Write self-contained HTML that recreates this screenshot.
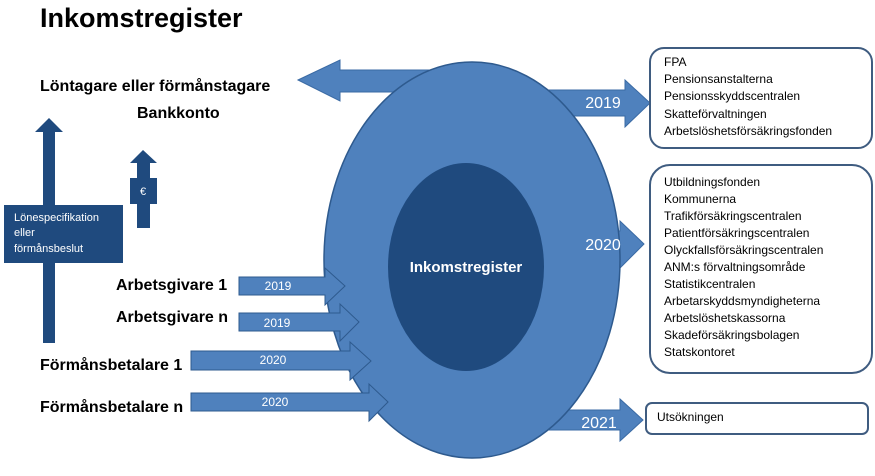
<!DOCTYPE html>
<html><head><meta charset="utf-8"><style>
html,body{margin:0;padding:0;background:#fff;}
svg{display:block;font-family:"Liberation Sans",sans-serif;}
</style></head><body>
<svg width="875" height="476" viewBox="0 0 875 476" xmlns="http://www.w3.org/2000/svg">
<text x="40" y="27" font-size="27" font-weight="bold" fill="#000">Inkomstregister</text>
<!-- left big arrow -->
<polygon points="298,80 340,60 340,70 470,70 470,92 340,92 340,101" fill="#4f81bd" stroke="#3a6aa4" stroke-width="1"/>
<!-- right arrows -->
<polygon points="540,90 625,90 625,80 650,103 625,127 625,116 540,116" fill="#4f81bd" stroke="#3a6aa4"/>
<polygon points="540,231 620,231 620,221 644,244 620,268 620,257 540,257" fill="#4f81bd" stroke="#3a6aa4"/>
<polygon points="540,410 620,410 620,399 643,420 620,441 620,430 540,430" fill="#4f81bd" stroke="#3a6aa4"/>
<!-- ellipse -->
<ellipse cx="472" cy="260" rx="148" ry="198" fill="#4f81bd" stroke="#2e5a8e" stroke-width="1.5"/>
<ellipse cx="466" cy="267" rx="78" ry="104" fill="#1f4a7e"/>
<text x="466" y="272" font-size="15" font-weight="bold" fill="#fff" text-anchor="middle">Inkomstregister</text>
<text x="603" y="108" font-size="16" fill="#fff" text-anchor="middle">2019</text>
<text x="603" y="250" font-size="16" fill="#fff" text-anchor="middle">2020</text>
<text x="599" y="428" font-size="16" fill="#fff" text-anchor="middle">2021</text>
<!-- input arrows -->
<polygon points="239,277 325,277 325,268 345,286 325,305 325,295 239,295" fill="#4f81bd" stroke="#2e5a8e"/>
<polygon points="239,313 340,313 340,304 359,322 340,341 340,331 239,331" fill="#4f81bd" stroke="#2e5a8e"/>
<polygon points="191,351 350,351 350,342 371,361 350,380 350,370 191,370" fill="#4f81bd" stroke="#2e5a8e"/>
<polygon points="191,393 369,393 369,384 388,402 369,421 369,411 191,411" fill="#4f81bd" stroke="#2e5a8e"/>
<text x="278" y="290" font-size="12" fill="#fff" text-anchor="middle">2019</text>
<text x="277" y="327" font-size="12" fill="#fff" text-anchor="middle">2019</text>
<text x="273" y="364" font-size="12" fill="#fff" text-anchor="middle">2020</text>
<text x="275" y="406" font-size="12" fill="#fff" text-anchor="middle">2020</text>
<!-- left labels -->
<text x="40" y="91" font-size="16" font-weight="bold">Löntagare eller förmånstagare</text>
<text x="137" y="118" font-size="16" font-weight="bold">Bankkonto</text>
<text x="116" y="290" font-size="16" font-weight="bold">Arbetsgivare 1</text>
<text x="116" y="322" font-size="16" font-weight="bold">Arbetsgivare n</text>
<text x="40" y="370" font-size="16" font-weight="bold">Förmånsbetalare 1</text>
<text x="40" y="412" font-size="16" font-weight="bold">Förmånsbetalare n</text>
<!-- vertical arrows -->
<polygon points="43,343 43,132 35,132 49,118 63,132 55,132 55,343" fill="#1f4a7e"/>
<rect x="4" y="205" width="119" height="58" fill="#1f4a7e"/>
<text x="14" y="221" font-size="11" fill="#fff">Lönespecifikation</text>
<text x="14" y="236" font-size="11" fill="#fff">eller</text>
<text x="14" y="252" font-size="11" fill="#fff">förmånsbeslut</text>
<polygon points="137,228 137,204 130,204 130,178 137,178 137,163 130,163 143,150 157,163 150,163 150,178 157,178 157,204 150,204 150,228" fill="#1f4a7e"/>
<text x="143" y="195" font-size="11" fill="#fff" text-anchor="middle">€</text>
<!-- boxes -->
<rect x="650" y="48" width="222" height="100" rx="14" fill="#fff" stroke="#3f5c80" stroke-width="2"/>
<g font-size="12" fill="#000">
<text x="664" y="66">FPA</text>
<text x="664" y="83">Pensionsanstalterna</text>
<text x="664" y="100">Pensionsskyddscentralen</text>
<text x="664" y="118">Skatteförvaltningen</text>
<text x="664" y="135">Arbetslöshetsförsäkringsfonden</text>
</g>
<rect x="650" y="165" width="222" height="208" rx="20" fill="#fff" stroke="#3f5c80" stroke-width="2"/>
<g font-size="12" fill="#000">
<text x="664" y="186">Utbildningsfonden</text>
<text x="664" y="203">Kommunerna</text>
<text x="664" y="220">Trafikförsäkringscentralen</text>
<text x="664" y="237">Patientförsäkringscentralen</text>
<text x="664" y="254">Olyckfallsförsäkringscentralen</text>
<text x="664" y="271">ANM:s förvaltningsområde</text>
<text x="664" y="288">Statistikcentralen</text>
<text x="664" y="305">Arbetarskyddsmyndigheterna</text>
<text x="664" y="322">Arbetslöshetskassorna</text>
<text x="664" y="339">Skadeförsäkringsbolagen</text>
<text x="664" y="356">Statskontoret</text>
<text x="657" y="421">Utsökningen</text>
</g>
<rect x="646" y="403" width="222" height="31" rx="6" fill="none" stroke="#3f5c80" stroke-width="2"/>
</svg>
</body></html>
